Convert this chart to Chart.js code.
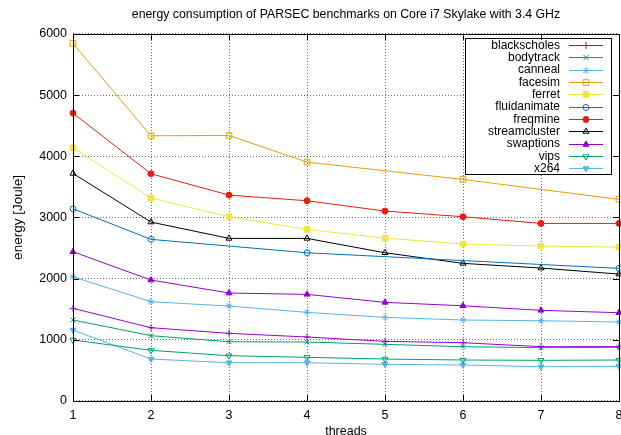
<!DOCTYPE html>
<html>
<head>
<meta charset="utf-8">
<title>PARSEC energy</title>
<script src="https://cdn.jsdelivr.net/npm/chart.js@4.4.1/dist/chart.umd.min.js"></script>
<style>
  html, body { margin: 0; padding: 0; background: #fff; overflow: hidden; }
  canvas { display: block; }
</style>
</head>
<body>
<!-- a little wider than the window so the "8" label runs off the right edge -->
<canvas id="energy" width="624" height="435"></canvas>
<script>
// energy per benchmark (Joule) for 1..8 threads; null = thread count not run
const threads = ['1', '2', '3', '4', '5', '6', '7', '8']
const blackscholes = [1515, 1198, 1106, 1046, 975, 953, 888, 888]
const bodytrack = [1324, 1068, 969, 964, 926, 888, 871, 877]
const canneal = [2031, 1623, 1552, 1449, 1367, 1324, 1312, 1291]
const facesim = [5845, 4335, 4341, 3905, null, 3622, null, 3296]
const ferret = [4139, 3317, 3012, 2805, 2663, 2565, 2533, 2516]
const fluidanimate = [3142, 2642, null, 2423, null, null, null, 2168]
const freqmine = [4706, 3714, 3366, 3273, 3105, 3012, 2903, 2903]
const streamcluster = [3720, 2925, 2658, 2658, 2423, 2250, 2173, 2075]
const swaptions = [2440, 1977, 1765, 1743, 1612, 1557, 1482, 1443]
const vips = [997, 828, 740, 714, 686, 670, 665, 670]
const x264 = [1160, 686, 626, 626, 600, 588, 560, 567]

const FONT = 'Liberation Sans, Arial, Helvetica, sans-serif'

// gnuplot-like line/point styles
const series = [
  { label: 'blackscholes', data: blackscholes, color: '#9400d3', point: 'cross', fill: false, rot: 0, r: 3.5 },
  { label: 'bodytrack', data: bodytrack, color: '#009e73', point: 'crossRot', fill: false, rot: 0, r: 3.5 },
  { label: 'canneal', data: canneal, color: '#56b4e9', point: 'star', fill: false, rot: 0, r: 3.5 },
  { label: 'facesim', data: facesim, color: '#e69f00', point: 'rect', fill: false, rot: 0, r: 4 },
  { label: 'ferret', data: ferret, color: '#f0e442', point: 'rect', fill: true, rot: 0, r: 4 },
  { label: 'fluidanimate', data: fluidanimate, color: '#0072b2', point: 'circle', fill: false, rot: 0, r: 3 },
  { label: 'freqmine', data: freqmine, color: '#e51e10', point: 'circle', fill: true, rot: 0, r: 3 },
  { label: 'streamcluster', data: streamcluster, color: '#000000', point: 'triangle', fill: false, rot: 0, r: 3.5 },
  { label: 'swaptions', data: swaptions, color: '#9400d3', point: 'triangle', fill: true, rot: 0, r: 3.5 },
  { label: 'vips', data: vips, color: '#009e73', point: 'triangle', fill: false, rot: 180, r: 3.5 },
  { label: 'x264', data: x264, color: '#56b4e9', point: 'triangle', fill: true, rot: 180, r: 3.5 },
]

const datasets = series.map((s) => ({
  label: s.label,
  data: s.data,
  borderColor: s.color,
  borderWidth: 1,
  pointStyle: s.point,
  pointRotation: s.rot,
  pointRadius: s.r,
  pointBorderWidth: 1,
  pointBorderColor: s.color,
  pointBackgroundColor: s.fill ? s.color : 'rgba(0,0,0,0)',
  tension: 0,
  spanGaps: true,
  clip: false,
}))

// key box in the upper right corner, labels right-aligned with the sample on the right
const keyPlugin = {
  id: 'key',
  afterDatasetsDraw(chart) {
    const { ctx } = chart
    const box = { left: 465.5, top: 38.5, right: 611.5, bottom: 174.5 }
    const rowTop = 45
    const rowStep = 12.33
    ctx.save()
    ctx.fillStyle = '#fff'
    ctx.fillRect(box.left, box.top, box.right - box.left, box.bottom - box.top)
    ctx.strokeStyle = '#000'
    ctx.lineWidth = 1
    ctx.strokeRect(box.left, box.top, box.right - box.left, box.bottom - box.top)
    ctx.font = `12px ${FONT}`
    ctx.textAlign = 'right'
    ctx.textBaseline = 'middle'
    series.forEach((s, i) => {
      const y = rowTop + i * rowStep
      ctx.fillStyle = '#000'
      ctx.fillText(s.label, 560, y + 0.5)
      ctx.strokeStyle = s.color
      ctx.lineWidth = 1
      ctx.beginPath()
      ctx.moveTo(569, Math.round(y) + 0.5)
      ctx.lineTo(603, Math.round(y) + 0.5)
      ctx.stroke()
      ctx.fillStyle = s.fill ? s.color : 'rgba(0,0,0,0)'
      Chart.helpers.drawPoint(ctx, {
        pointStyle: s.point, rotation: s.rot, radius: s.r, borderWidth: 1,
      }, 586, Math.round(y) + 0.5)
    })
    ctx.restore()
  },
}

// solid frame with inward tick marks on all four sides
const framePlugin = {
  id: 'frame',
  afterDatasetsDraw(chart) {
    const { ctx, chartArea: a, scales: { x, y } } = chart
    const len = 6
    ctx.save()
    ctx.strokeStyle = '#000'
    ctx.lineWidth = 1
    ctx.beginPath()
    x.ticks.forEach((t, i) => {
      const px = Math.round(x.getPixelForTick(i)) + 0.5
      ctx.moveTo(px, a.bottom); ctx.lineTo(px, a.bottom - len)
      ctx.moveTo(px, a.top); ctx.lineTo(px, a.top + len)
    })
    y.ticks.forEach((t, i) => {
      const py = Math.round(y.getPixelForTick(i)) + 0.5
      ctx.moveTo(a.left, py); ctx.lineTo(a.left + len, py)
      ctx.moveTo(a.right, py); ctx.lineTo(a.right - len, py)
    })
    ctx.stroke()
    ctx.strokeRect(Math.round(a.left) + 0.5, Math.round(a.top) + 0.5,
      Math.round(a.right - a.left), Math.round(a.bottom - a.top))
    ctx.restore()
  },
}

new Chart(document.getElementById('energy'), {
  type: 'line',
  data: { labels: threads, datasets },
  plugins: [keyPlugin, framePlugin],
  options: {
    responsive: false,
    animation: false,
    layout: { padding: { left: 0, right: 0, top: 0, bottom: 0 } },
    plugins: {
      legend: { display: false },
      tooltip: { enabled: false },
      title: {
        display: true,
        fullSize: false,
        text: 'energy consumption of PARSEC benchmarks on Core i7 Skylake with 3.4 GHz',
        color: '#000',
        font: { family: FONT, size: 12.3, weight: 'normal' },
        padding: { top: 7.6, bottom: 11.6 },
      },
    },
    scales: {
      x: {
        offset: false,
        // label gap comes from an invisible tick so ticks.padding stays 0
        ticks: { color: '#000', padding: 0, font: { family: FONT, size: 12.5 }, maxRotation: 0 },
        grid: {
          color: 'rgba(0,0,0,0.6)', drawTicks: true, tickLength: 7,
          tickColor: 'rgba(0,0,0,0)', offset: false,
        },
        border: { display: false, dash: [1, 2] },
        title: {
          display: true, text: 'threads', color: '#000',
          font: { family: FONT, size: 12.5 }, padding: { top: 0, bottom: -4 },
        },
        afterFit: (s) => { s.height = 34; s.paddingRight = 0 },
      },
      y: {
        min: 0,
        max: 6000,
        ticks: {
          stepSize: 1000, color: '#000', padding: 6, font: { family: FONT, size: 12.5 },
          callback: (v) => String(v),
        },
        grid: { color: 'rgba(0,0,0,0.6)', drawTicks: false },
        border: { display: false, dash: [1, 2] },
        title: {
          display: true, text: 'energy [Joule]', color: '#000',
          font: { family: FONT, size: 13.5 }, padding: { top: 10, bottom: 0 },
        },
        afterFit: (s) => { s.width = 73 },
      },
    },
  },
})
</script>
</body>
</html>
